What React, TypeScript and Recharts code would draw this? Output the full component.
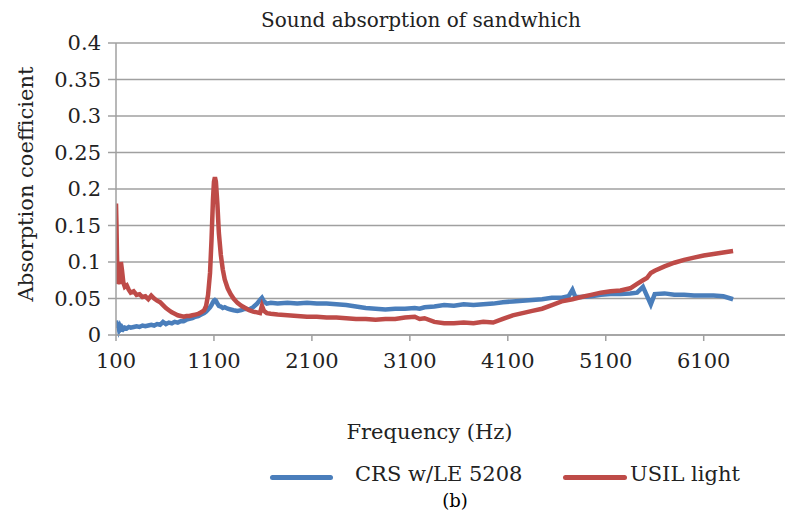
import { LineChart, Line, XAxis, YAxis, CartesianGrid, Legend } from 'recharts'

// frequency (Hz) and absorption coefficient
const freq = [
  100, 105, 110, 115, 120, 130, 140, 150, 160, 175, 190, 210, 230, 250, 280, 310, 340, 370, 400, 430,
  460, 490, 520, 550, 580, 610, 640, 670, 700, 730, 760, 790, 820, 850, 880, 910, 940, 970, 1000, 1020,
  1040, 1060, 1075, 1090, 1100, 1110, 1120, 1135, 1150, 1170, 1190, 1210, 1240, 1270, 1300, 1340, 1380, 1420, 1460, 1500,
  1540, 1570, 1590, 1610, 1640, 1680, 1750, 1850, 1950, 2050, 2150, 2250, 2350, 2450, 2550, 2650, 2750, 2850, 2950, 3050,
  3150, 3200, 3250, 3350, 3450, 3550, 3650, 3750, 3850, 3950, 4050, 4150, 4250, 4350, 4450, 4550, 4650, 4720, 4760, 4790,
  4850, 4950, 5050, 5150, 5250, 5350, 5420, 5480, 5520, 5560, 5600, 5700, 5800, 5900, 6000, 6100, 6200, 6300, 6400,
]

const crs = [
  0.02, 0.012, 0.018, 0.01, 0.015, 0.008, 0.012, 0.009, 0.011, 0.008, 0.01, 0.009, 0.011, 0.01, 0.011, 0.012, 0.011, 0.013, 0.012, 0.013,
  0.014, 0.013, 0.015, 0.014, 0.018, 0.015, 0.017, 0.016, 0.018, 0.017, 0.019, 0.019, 0.021, 0.022, 0.023, 0.025, 0.026, 0.028, 0.03, 0.032,
  0.035, 0.038, 0.041, 0.045, 0.047, 0.048, 0.047, 0.043, 0.04, 0.039, 0.037, 0.038, 0.036, 0.035, 0.034, 0.033, 0.034, 0.036, 0.035, 0.038,
  0.043, 0.048, 0.051, 0.046, 0.043, 0.044, 0.043, 0.044, 0.043, 0.044, 0.043, 0.043, 0.042, 0.041, 0.039, 0.037, 0.036, 0.035, 0.036, 0.036,
  0.037, 0.036, 0.038, 0.039, 0.041, 0.04, 0.042, 0.041, 0.042, 0.043, 0.045, 0.046, 0.047, 0.048, 0.049, 0.051, 0.051, 0.053, 0.062, 0.052,
  0.052, 0.053, 0.055, 0.056, 0.056, 0.057, 0.058, 0.066, 0.054, 0.042, 0.056, 0.057, 0.055, 0.055, 0.054, 0.054, 0.054, 0.053, 0.049,
]

const usil = [
  0.18, 0.15, 0.11, 0.08, 0.07, 0.075, 0.07, 0.1, 0.09, 0.072, 0.066, 0.068, 0.062, 0.058, 0.06, 0.055, 0.056, 0.052, 0.053, 0.049,
  0.054, 0.05, 0.047, 0.045, 0.041, 0.037, 0.034, 0.031, 0.029, 0.027, 0.026, 0.025, 0.026, 0.026, 0.027, 0.028, 0.029, 0.031, 0.034, 0.04,
  0.055, 0.085, 0.13, 0.185, 0.21, 0.216, 0.21, 0.18, 0.14, 0.11, 0.09, 0.076, 0.064, 0.056, 0.05, 0.044, 0.04, 0.037, 0.034, 0.032,
  0.031, 0.03, 0.04, 0.033, 0.03, 0.029, 0.028, 0.027, 0.026, 0.025, 0.025, 0.024, 0.024, 0.023, 0.022, 0.022, 0.021, 0.022, 0.022, 0.024,
  0.025, 0.022, 0.023, 0.018, 0.016, 0.016, 0.017, 0.016, 0.018, 0.017, 0.022, 0.027, 0.03, 0.033, 0.036, 0.041, 0.046, 0.048, 0.049, 0.05,
  0.052, 0.055, 0.058, 0.06, 0.061, 0.064, 0.07, 0.075, 0.078, 0.085, 0.088, 0.094, 0.099, 0.103, 0.106, 0.109, 0.111, 0.113, 0.115,
]

const xTicks = [100, 1100, 2100, 3100, 4100, 5100, 6100]
const yTicks = [0, 0.05, 0.1, 0.15, 0.2, 0.25, 0.3, 0.35, 0.4]

const BLUE = '#4a7ebb'
const RED = '#be4b48'
const GRID = '#a0a0a0'
const TEXT = '#222'
const FONT = 'DejaVu Serif, serif'

const data = freq.map((f, i) => ({ f, crs: crs[i], usil: usil[i] }))

function LegendBox() {
  return (
    <div style={{ position: 'relative', width: 790, height: 30, fontFamily: FONT, fontSize: 21, color: TEXT }}>
      <div style={{ position: 'absolute', left: 270, top: 13, width: 63, height: 5, background: BLUE, borderRadius: 3 }} />
      <span style={{ position: 'absolute', left: 355, top: 0, whiteSpace: 'nowrap' }}>CRS w/LE 5208</span>
      <div style={{ position: 'absolute', left: 563, top: 13, width: 64, height: 5, background: RED, borderRadius: 3 }} />
      <span style={{ position: 'absolute', left: 630, top: 0, whiteSpace: 'nowrap' }}>USIL light</span>
    </div>
  )
}

function YTitle() {
  return (
    <text
      x={26}
      y={184}
      transform="rotate(-90, 26, 184)"
      textAnchor="middle"
      dominantBaseline="central"
      fontSize={21}
      fontFamily={FONT}
      fill={TEXT}
    >
      Absorption coefficient
    </text>
  )
}

export default function App() {
  return (
    <div style={{ position: 'absolute', left: 0, top: 0, width: 790, height: 518, background: '#fff' }}>
      <div
        style={{
          position: 'absolute',
          left: 0,
          width: 842,
          top: 8,
          textAlign: 'center',
          fontFamily: FONT,
          fontSize: 20,
          color: TEXT,
        }}
      >
        Sound absorption of sandwhich
      </div>
      <LineChart width={790} height={518} data={data} margin={{ top: 43, right: 5, bottom: 123, left: 0 }}>
        <CartesianGrid vertical={false} stroke={GRID} strokeWidth={1.5} />
        <XAxis
          dataKey="f"
          type="number"
          domain={[100, 6930]}
          ticks={xTicks}
          allowDataOverflow
          height={30}
          stroke={GRID}
          strokeWidth={1.5}
          tickSize={6}
          tickMargin={12}
          tick={{ fontSize: 21, fill: TEXT, fontFamily: FONT }}
          label={{
            value: 'Frequency (Hz)',
            position: 'insideBottom',
            offset: -74,
            dx: -21,
            style: { fontSize: 21, fill: TEXT, fontFamily: FONT },
          }}
        />
        <YAxis
          type="number"
          domain={[0, 0.4]}
          ticks={yTicks}
          width={116}
          stroke={GRID}
          strokeWidth={1.5}
          tickSize={8}
          tickMargin={7}
          tick={{ fontSize: 21, fill: TEXT, fontFamily: FONT }}
          label={<YTitle />}
        />
        <Line type="linear" dataKey="crs" stroke={BLUE} strokeWidth={4.5} dot={false} isAnimationActive={false} name="CRS w/LE 5208" />
        <Line type="linear" dataKey="usil" stroke={RED} strokeWidth={4.5} dot={false} isAnimationActive={false} name="USIL light" />
        <Legend content={<LegendBox />} wrapperStyle={{ left: 0, top: 462, width: 790 }} />
      </LineChart>
      <div
        style={{
          position: 'absolute',
          left: 0,
          width: 910,
          top: 490,
          textAlign: 'center',
          fontFamily: FONT,
          fontSize: 18,
          color: '#000',
        }}
      >
        (b)
      </div>
    </div>
  )
}
